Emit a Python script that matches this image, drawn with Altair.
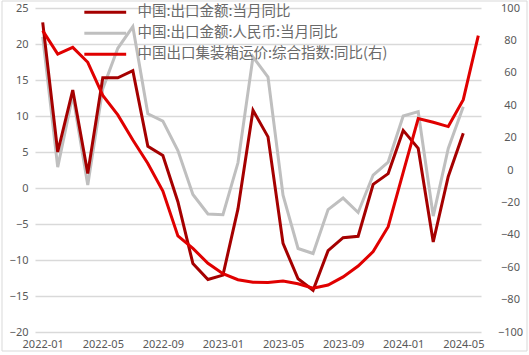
import altair as alt
import pandas as pd

months = [
    "2022-01", "2022-02", "2022-03", "2022-04", "2022-05", "2022-06",
    "2022-07", "2022-08", "2022-09", "2022-10", "2022-11", "2022-12",
    "2023-01", "2023-02", "2023-03", "2023-04", "2023-05", "2023-06",
    "2023-07", "2023-08", "2023-09", "2023-10", "2023-11", "2023-12",
    "2024-01", "2024-02", "2024-03", "2024-04", "2024-05", "2024-06",
]

# 中国:出口金额:当月同比 (left axis, %)
export_usd = [23.0, 5.0, 13.6, 2.0, 15.3, 15.3, 16.3, 5.8, 4.5, -1.9,
              -10.5, -12.7, -12.1, -2.9, 10.8, 7.1, -7.7, -12.6, -14.2, -8.7,
              -6.9, -6.7, 0.5, 2.0, 8.0, 5.5, -7.5, 1.6, 7.6]

# 中国:出口金额:人民币:当月同比 (left axis, %)
export_cny = [21.0, 2.9, 12.9, 0.4, 13.8, 19.4, 22.4, 10.3, 9.3, 5.2,
              -0.9, -3.6, -3.7, 3.5, 18.2, 15.4, -1.0, -8.4, -9.1, -3.0,
              -1.4, -3.4, 1.8, 3.6, 10.0, 10.6, -3.9, 5.5, 11.3]

# 中国出口集装箱运价:综合指数:同比 (right axis, %)
container = [86.0, 71.6, 75.7, 66.5, 46.0, 34.0, 18.5, 4.0, -13.0, -40.7,
             -48.4, -57.6, -64.0, -67.7, -69.3, -69.5, -68.6, -70.2, -73.0, -71.0,
             -66.0, -59.3, -50.4, -35.0, -1.5, 31.7, 29.5, 26.8, 43.4, 83.0]

S1 = "中国:出口金额:当月同比"
S2 = "中国:出口金额:人民币:当月同比"
S3 = "中国出口集装箱运价:综合指数:同比(右)"

left_ticks = [-20, -15, -10, -5, 0, 5, 10, 15, 20, 25]
right_ticks = [-100, -80, -60, -40, -20, 0, 20, 40, 60, 80, 100]
x_ticks = [0, 4, 8, 12, 16, 20, 24, 28]

df_usd = pd.DataFrame({"idx": list(range(len(export_usd))), "value": export_usd, "series": S1})
df_cny = pd.DataFrame({"idx": list(range(len(export_cny))), "value": export_cny, "series": S2})
df_box = pd.DataFrame({"idx": list(range(len(container))), "value": container, "series": S3})

W, H = 446, 324
LABEL = "#595959"
NUMFONT = "Noto Sans"

month_js = "[" + ",".join("'%s'" % m for m in months) + "]"

x_enc = alt.X(
    "idx:Q",
    scale=alt.Scale(domain=[-0.513, 29.18], nice=False, zero=False),
    axis=alt.Axis(values=x_ticks, labelExpr=month_js + "[datum.value]",
                  grid=False, ticks=False, domain=False, labelPadding=6,
                  labelFontSize=11, labelColor=LABEL, labelFont=NUMFONT,
                  title=None, labelFlush=False),
)

color_enc = alt.Color(
    "series:N",
    scale=alt.Scale(domain=[S1, S2, S3], range=["#A50000", "#BFBFBF", "#E00000"]),
    legend=alt.Legend(orient="none", legendX=63, legendY=-3, title=None,
                      symbolType="M-5,0H5", symbolSize=70, symbolStrokeWidth=3,
                      labelFontSize=14.5, labelFont="Noto Sans CJK SC",
                      labelFontWeight="normal",
                      labelColor="#6a6a6a", labelOffset=25, rowPadding=6,
                      padding=0, labelLimit=500),
)

yl = alt.Y(
    "value:Q",
    scale=alt.Scale(domain=[-20, 25], nice=False, zero=False),
    axis=alt.Axis(values=left_ticks, grid=True, gridColor="#D9D9D9", gridWidth=1.5,
                  domain=False, ticks=False, labelPadding=7, labelFontSize=11,
                  labelColor=LABEL, labelFont=NUMFONT, title=None),
)

yr = alt.Y(
    "value:Q",
    scale=alt.Scale(domain=[-100, 100], nice=False, zero=False),
    axis=alt.Axis(orient="right", values=right_ticks, grid=False, domain=False,
                  ticks=False, labelAlign="center", labelPadding=29,
                  labelFontSize=11, labelColor=LABEL, labelFont=NUMFONT, title=None),
)

gray = alt.Chart(df_cny).mark_line(strokeWidth=3).encode(x=x_enc, y=yl, color=color_enc)
dark = alt.Chart(df_usd).mark_line(strokeWidth=3).encode(x=x_enc, y=yl, color=color_enc)
red = alt.Chart(df_box).mark_line(strokeWidth=3).encode(x=x_enc, y=yr, color=color_enc)

border = alt.Chart(pd.DataFrame({"a": [0]})).mark_rect(
    fillOpacity=0, stroke="#D9D9D9", strokeWidth=1
).encode(x=alt.value(-33), x2=alt.value(W + 46), y=alt.value(-7), y2=alt.value(H + 19))

left = alt.layer(gray, dark)

chart = (
    alt.layer(left, red, border)
    .resolve_scale(y="independent")
    .properties(width=W, height=H,
                padding={"left": 35, "top": 8, "right": 48, "bottom": 23},
                autosize=alt.AutoSizeParams(type="none"),
                background="white")
    .configure_view(stroke=None)
)

chart.save("out.html", embed_options={"renderer": "svg", "actions": False})
